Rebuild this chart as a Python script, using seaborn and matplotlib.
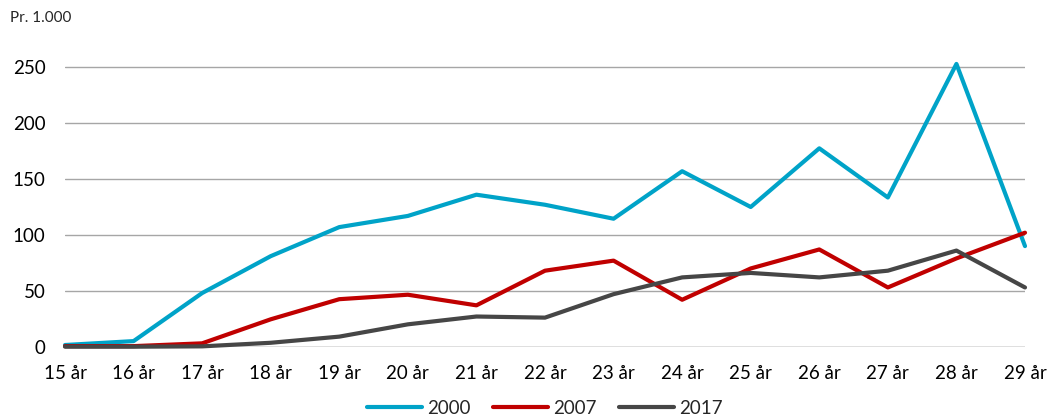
import pandas as pd
import seaborn as sns
from matplotlib import pyplot as plt

ages = list(range(15, 30))
age_labels = [f"{a} år" for a in ages]
years = ["2000", "2007", "2017"]

values_2000 = [1.5, 5, 48, 81, 107, 117, 136, 127, 114.5, 157, 125, 177.5, 133.5, 253, 90]
values_2007 = [0.5, 0.5, 3, 24.5, 42.5, 46.5, 37, 68, 77, 42, 70, 87, 53, 79, 102]
values_2017 = [0, 0, 0.3, 3.5, 9, 20, 27, 26, 47, 62, 66, 62, 68, 86, 53]

colors = {"2000": "#00A3C8", "2007": "#C00000", "2017": "#464646"}

df = pd.DataFrame({
    "age": ages * 3,
    "value": values_2000 + values_2007 + values_2017,
    "year": [y for y in years for _ in ages],
})

sns.set_style("white")
plt.rcParams["font.family"] = ["Lato", "DejaVu Sans"]

fig = plt.figure(figsize=(10.55, 4.18), dpi=100)
ax = fig.add_axes([65 / 1055, 0.1706, 960 / 1055, 0.7005])

sns.lineplot(data=df, x="age", y="value", hue="year", palette=colors,
             linewidth=3, ax=ax, clip_on=False, zorder=3)

# gridlines
for v in [50, 100, 150, 200, 250]:
    ax.axhline(v, color="#A6A6A6", linewidth=1, zorder=1)
ax.axhline(0, color="#D9D9D9", linewidth=1.2, zorder=1)

ax.set_xlim(15, 29)
ax.set_ylim(0, 262)
ax.set_yticks([0, 50, 100, 150, 200, 250])
ax.set_xticks(ages)
ax.set_xticklabels(age_labels)
ax.tick_params(axis="both", length=0, labelsize=13.5, colors="#000000")
ax.tick_params(axis="y", pad=14)
ax.tick_params(axis="x", pad=13)
for s in ax.spines.values():
    s.set_visible(False)
ax.set_xlabel("")
ax.set_ylabel("")

fig.text(10 / 1055, 1 - 18 / 418, "Pr. 1.000", fontsize=11, va="center", ha="left")

leg = ax.legend(loc="center", bbox_to_anchor=(0.5, (1 - 408 / 418 - 0.1706) / 0.7005),
                ncol=3, frameon=False, fontsize=13.5, handlelength=2.9,
                columnspacing=1.2, handletextpad=0.3)
for line in leg.get_lines():
    line.set_linewidth(3)
    line.set_solid_capstyle("round")

fig.savefig("out.png", dpi=100)
